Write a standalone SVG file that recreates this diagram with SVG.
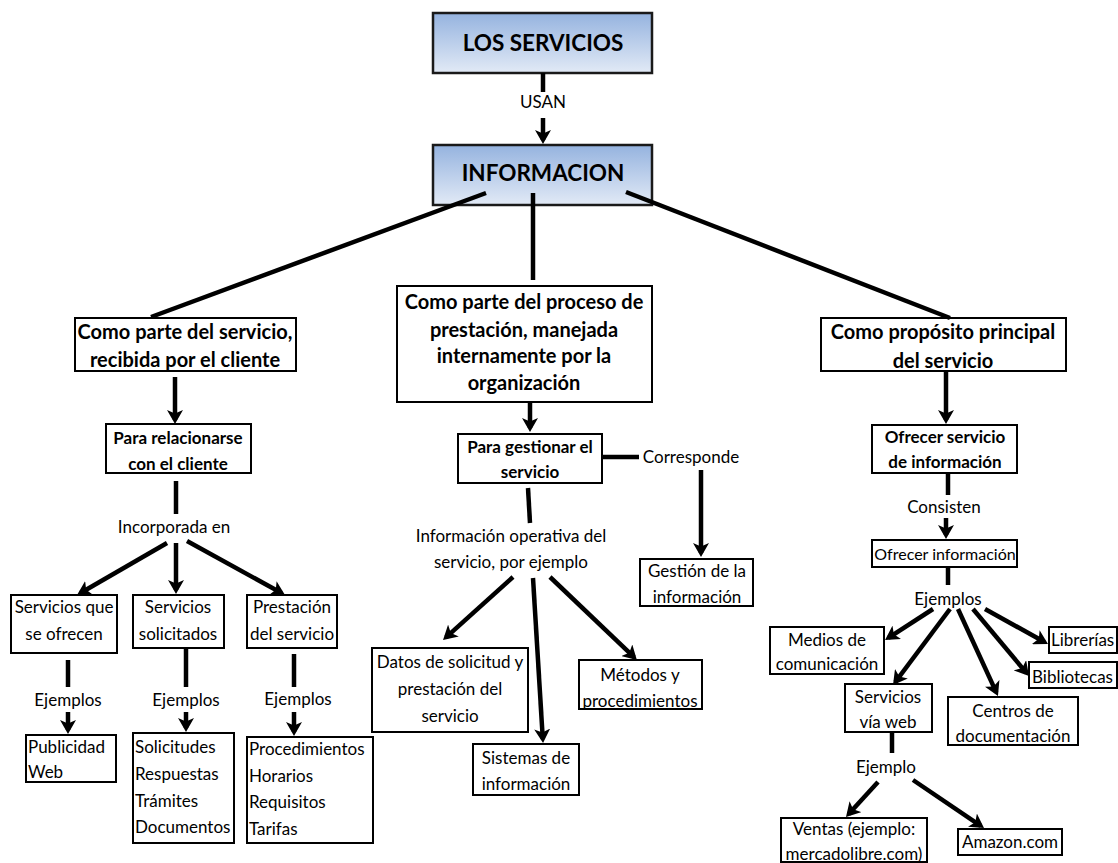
<svg xmlns="http://www.w3.org/2000/svg" width="1118" height="863" viewBox="0 0 1118 863">
  <defs>
    <linearGradient id="titleFill" x1="0" y1="0" x2="0" y2="1">
      <stop offset="0" stop-color="#95b3df"/>
      <stop offset="1" stop-color="#e2eaf6"/>
    </linearGradient>
    <marker id="arrow" markerUnits="userSpaceOnUse" markerWidth="14" markerHeight="16" viewBox="0 0 14 16" refX="10" refY="8" orient="auto">
      <path d="M0,0 L14,8 L0,16 L3.5,8 Z" fill="#000"/>
    </marker>
    <style>
      text { font-family: Lato, "Open Sans", "Liberation Sans", sans-serif; fill: #000; }
      .title { font-size: 22.5px; font-weight: bold; text-anchor: middle; }
      .big { font-size: 20px; font-weight: bold; text-anchor: middle; }
      .mid { font-size: 17px; font-weight: bold; text-anchor: middle; }
      .lbl { font-size: 17px; text-anchor: middle; }
      .left { font-size: 17px; text-anchor: start; }
      .box { fill: #fff; stroke: #000; stroke-width: 2; }
      .tbox { fill: url(#titleFill); stroke: #1a1a1a; stroke-width: 2.5; }
      .con line { stroke: #000; stroke-width: 4.5; fill: none; }
      .arr { marker-end: url(#arrow); }
    </style>
  </defs>

  <rect width="1118" height="863" fill="#fff"/>

  <!-- Header nodes -->
  <g id="los-servicios">
    <rect class="tbox" x="433" y="13" width="219" height="60"/>
    <text class="title" x="543" y="51">LOS SERVICIOS</text>
  </g>
  <g id="informacion">
    <rect class="tbox" x="433" y="145" width="219" height="60"/>
    <text class="title" x="543" y="181">INFORMACION</text>
  </g>

  <!-- Second level -->
  <g id="parte-servicio">
    <rect class="box" x="75" y="318" width="221" height="53"/>
    <text class="big" x="185" y="339">Como parte del servicio,</text>
    <text class="big" x="185" y="367">recibida por el cliente</text>
  </g>
  <g id="parte-proceso">
    <rect class="box" x="397" y="286" width="255" height="116"/>
    <text class="big" x="524" y="309">Como parte del proceso de</text>
    <text class="big" x="524" y="337">prestación, manejada</text>
    <text class="big" x="524" y="363">internamente por la</text>
    <text class="big" x="524" y="390">organización</text>
  </g>
  <g id="proposito">
    <rect class="box" x="821" y="318" width="245" height="53"/>
    <text class="big" x="943" y="339">Como propósito principal</text>
    <text class="big" x="943" y="368">del servicio</text>
  </g>

  <!-- Third level -->
  <g id="relacionarse">
    <rect class="box" x="106" y="424" width="145" height="49"/>
    <text class="mid" x="178" y="444">Para relacionarse</text>
    <text class="mid" x="178" y="470">con el cliente</text>
  </g>
  <g id="gestionar">
    <rect class="box" x="458" y="434" width="144" height="49"/>
    <text class="mid" x="530" y="453">Para gestionar el</text>
    <text class="mid" x="530" y="478">servicio</text>
  </g>
  <g id="ofrecer-servicio">
    <rect class="box" x="872" y="425" width="145" height="48"/>
    <text class="mid" x="945" y="443">Ofrecer servicio</text>
    <text class="mid" x="945" y="468">de información</text>
  </g>

  <!-- Left branch -->
  <g id="servicios-ofrecen">
    <rect class="box" x="11" y="595" width="106" height="58"/>
    <text class="lbl" x="64" y="613">Servicios que</text>
    <text class="lbl" x="64" y="640">se ofrecen</text>
  </g>
  <g id="servicios-solicitados">
    <rect class="box" x="133" y="595" width="91" height="53"/>
    <text class="lbl" x="178" y="613">Servicios</text>
    <text class="lbl" x="178" y="640">solicitados</text>
  </g>
  <g id="prestacion">
    <rect class="box" x="247" y="595" width="90" height="53"/>
    <text class="lbl" x="292" y="613">Prestación</text>
    <text class="lbl" x="292" y="640">del servicio</text>
  </g>
  <g id="publicidad">
    <rect class="box" x="26" y="735" width="90" height="47"/>
    <text class="left" x="28" y="753">Publicidad</text>
    <text class="left" x="28" y="778">Web</text>
  </g>
  <g id="solicitudes">
    <rect class="box" x="133" y="733" width="101" height="110"/>
    <text class="left" x="135" y="753">Solicitudes</text>
    <text class="left" x="135" y="780">Respuestas</text>
    <text class="left" x="135" y="807">Trámites</text>
    <text class="left" x="135" y="833">Documentos</text>
  </g>
  <g id="procedimientos">
    <rect class="box" x="247" y="737" width="126" height="106"/>
    <text class="left" x="249" y="755">Procedimientos</text>
    <text class="left" x="249" y="782">Horarios</text>
    <text class="left" x="249" y="808">Requisitos</text>
    <text class="left" x="249" y="835">Tarifas</text>
  </g>

  <!-- Middle branch -->
  <g id="gestion-info">
    <rect class="box" x="640" y="559" width="113" height="47"/>
    <text class="lbl" x="697" y="577">Gestión de la</text>
    <text class="lbl" x="697" y="603">información</text>
  </g>
  <g id="datos">
    <rect class="box" x="372" y="648" width="156" height="84"/>
    <text class="lbl" x="450" y="668">Datos de solicitud y</text>
    <text class="lbl" x="450" y="695">prestación del</text>
    <text class="lbl" x="450" y="722">servicio</text>
  </g>
  <g id="sistemas">
    <rect class="box" x="473" y="744" width="106" height="51"/>
    <text class="lbl" x="526" y="764">Sistemas de</text>
    <text class="lbl" x="526" y="790">información</text>
  </g>
  <g id="metodos">
    <rect class="box" x="579" y="660" width="123" height="49"/>
    <text class="lbl" x="640" y="681">Métodos y</text>
    <text class="lbl" x="640" y="707">procedimientos</text>
  </g>

  <!-- Right branch -->
  <g id="ofrecer-info">
    <rect class="box" x="872" y="540" width="145" height="27"/>
    <text class="lbl" x="945" y="560" style="font-size:16px">Ofrecer información</text>
  </g>
  <g id="medios">
    <rect class="box" x="770" y="627" width="114" height="47"/>
    <text class="lbl" x="827" y="646">Medios de</text>
    <text class="lbl" x="827" y="670">comunicación</text>
  </g>
  <g id="servicios-web">
    <rect class="box" x="845" y="684" width="87" height="48"/>
    <text class="lbl" x="888" y="703">Servicios</text>
    <text class="lbl" x="888" y="728">vía web</text>
  </g>
  <g id="centros">
    <rect class="box" x="948" y="697" width="130" height="48"/>
    <text class="lbl" x="1013" y="717">Centros de</text>
    <text class="lbl" x="1013" y="742">documentación</text>
  </g>
  <g id="bibliotecas">
    <rect class="box" x="1029" y="662" width="88" height="26"/>
    <text class="left" x="1032" y="683">Bibliotecas</text>
  </g>
  <g id="librerias">
    <rect class="box" x="1049" y="627" width="68" height="26"/>
    <text class="left" x="1051" y="646">Librerías</text>
  </g>
  <g id="ventas">
    <rect class="box" x="781" y="818" width="146" height="44"/>
    <text class="lbl" x="854" y="835">Ventas (ejemplo:</text>
    <text class="lbl" x="854" y="860">mercadolibre.com)</text>
  </g>
  <g id="amazon">
    <rect class="box" x="958" y="829" width="104" height="26"/>
    <text class="lbl" x="1010" y="848">Amazon.com</text>
  </g>

  <!-- Connector labels -->
  <g id="labels">
    <text class="lbl" x="543" y="108">USAN</text>
    <text class="lbl" x="174" y="533">Incorporada en</text>
    <text class="lbl" x="68" y="706">Ejemplos</text>
    <text class="lbl" x="186" y="706">Ejemplos</text>
    <text class="lbl" x="298" y="705">Ejemplos</text>
    <text class="lbl" x="691" y="463">Corresponde</text>
    <text class="lbl" x="511" y="542">Información operativa del</text>
    <text class="lbl" x="511" y="568">servicio, por ejemplo</text>
    <text class="lbl" x="944" y="513">Consisten</text>
    <text class="lbl" x="948" y="605">Ejemplos</text>
    <text class="lbl" x="886" y="773">Ejemplo</text>
  </g>

  <!-- Connectors -->
  <g id="connectors" class="con">
    <line x1="543" y1="73" x2="543" y2="92"/>
    <line class="arr" x1="543" y1="118" x2="543" y2="140"/>
    <line x1="486" y1="193" x2="151" y2="317"/>
    <line x1="533" y1="193" x2="533" y2="280"/>
    <line x1="626" y1="192" x2="950" y2="318"/>

    <line class="arr" x1="175" y1="377" x2="175" y2="420"/>
    <line class="arr" x1="530" y1="402" x2="530" y2="428"/>
    <line class="arr" x1="946" y1="372" x2="946" y2="420"/>

    <line x1="176" y1="481" x2="176" y2="514"/>
    <line class="arr" x1="167" y1="543" x2="80.5" y2="593"/>
    <line class="arr" x1="176" y1="543" x2="176" y2="590"/>
    <line class="arr" x1="187" y1="541" x2="281.5" y2="593"/>

    <line x1="68" y1="660" x2="68" y2="687"/>
    <line class="arr" x1="68" y1="712" x2="68" y2="730"/>
    <line x1="186" y1="648" x2="186" y2="687"/>
    <line class="arr" x1="186" y1="712" x2="186" y2="728"/>
    <line x1="294" y1="654" x2="294" y2="687"/>
    <line class="arr" x1="294" y1="712" x2="294" y2="732"/>

    <line x1="602" y1="457" x2="639" y2="457"/>
    <line class="arr" x1="701" y1="470" x2="701" y2="553"/>
    <line x1="528" y1="488" x2="530" y2="523"/>
    <line class="arr" x1="513" y1="577" x2="446" y2="637.3"/>
    <line class="arr" x1="533" y1="578" x2="542.8" y2="739"/>
    <line class="arr" x1="550" y1="577" x2="634" y2="657.2"/>

    <line x1="948" y1="473" x2="948" y2="495"/>
    <line class="arr" x1="946" y1="518" x2="946" y2="535"/>
    <line x1="948" y1="567" x2="948" y2="585"/>
    <line class="arr" x1="933" y1="609" x2="888.4" y2="637.8"/>
    <line class="arr" x1="950" y1="609" x2="895.4" y2="681.8"/>
    <line class="arr" x1="958" y1="609" x2="996.3" y2="692.4"/>
    <line class="arr" x1="973" y1="609" x2="1026.4" y2="672.9"/>
    <line class="arr" x1="985" y1="609" x2="1044.5" y2="642"/>

    <line x1="892" y1="732" x2="892" y2="753"/>
    <line class="arr" x1="878" y1="782" x2="848.7" y2="814"/>
    <line class="arr" x1="913" y1="780" x2="980.7" y2="825.8"/>
  </g>
</svg>
